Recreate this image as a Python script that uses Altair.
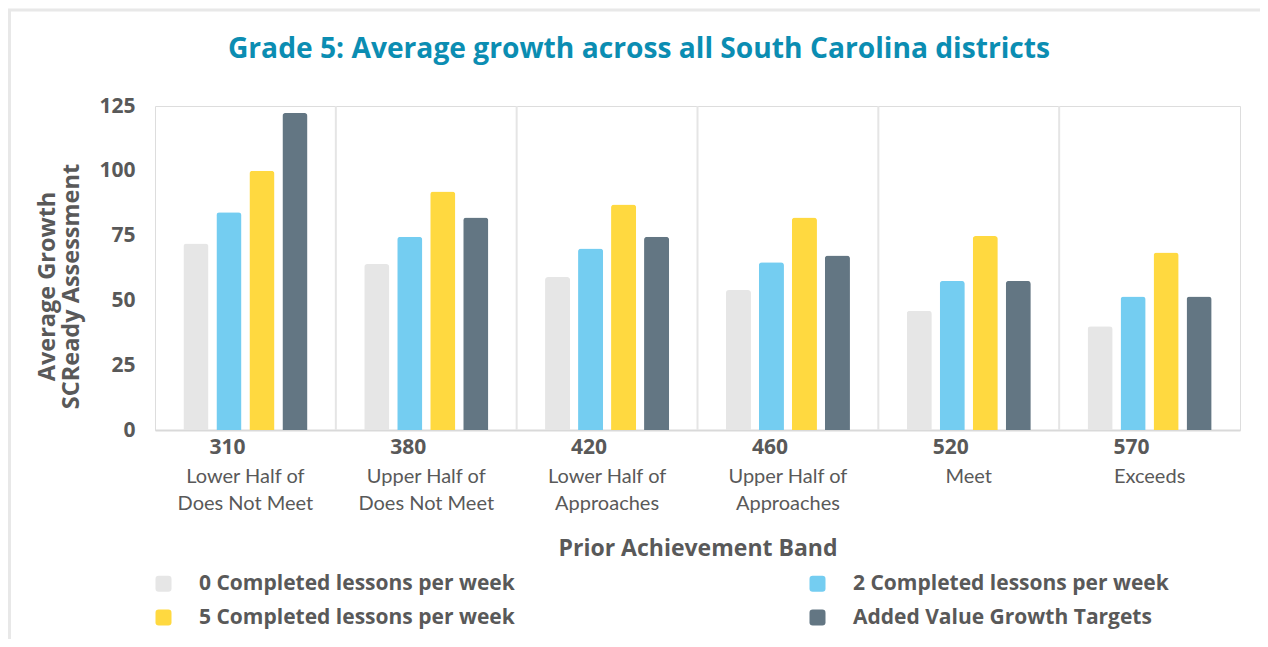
import altair as alt
import pandas as pd

title_text = "Grade 5: Average growth across all South Carolina districts"
bands = ["310", "380", "420", "460", "520", "570"]
descs = ["Lower Half of\nDoes Not Meet", "Upper Half of\nDoes Not Meet", "Lower Half of\nApproaches",
         "Upper Half of\nApproaches", "Meet", "Exceeds"]
series = ["0 Completed lessons per week", "2 Completed lessons per week",
          "5 Completed lessons per week", "Added Value Growth Targets"]
colors = ["#e6e6e6", "#74cdf1", "#ffd940", "#637683"]
s0 = [72, 64, 59, 54, 46, 40]
s2 = [84, 74.6, 70, 64.7, 57.5, 51.5]
s5 = [100, 92, 87, 82, 74.8, 68.5]
target = [122.3, 82, 74.6, 67.3, 57.5, 51.5]

rows = []
for vals, s in zip([s0, s2, s5, target], series):
    for b, v in zip(bands, vals):
        rows.append({"band": b, "series": s, "value": v})
df = pd.DataFrame(rows)
desc_df = pd.DataFrame({"band": bands, "desc": descs})
div_df = pd.DataFrame({"band": bands[1:]})
one_df = pd.DataFrame({"t": [title_text]})

# legend lays entries out column by column: order so rows read 0/2 then 5/target
legend_order = [series[0], series[2], series[1], series[3]]
legend_colors = [colors[0], colors[2], colors[1], colors[3]]

W, H = 1085, 324
BOLD = "Open Sans"
REG = "Lato"
TXT = "#595959"
GRID = "#e5e5e5"

rsym = "M-0.6,-1H0.6Q1,-1,1,-0.6V0.6Q1,1,0.6,1H-0.6Q-1,1,-1,0.6V-0.6Q-1,-1,-0.6,-1Z"

xscale = alt.Scale(domain=bands, paddingInner=0, paddingOuter=0)
yscale = alt.Scale(domain=[0, 125])

bars = alt.Chart(df).mark_bar(cornerRadiusTopLeft=3, cornerRadiusTopRight=3).encode(
    x=alt.X("band:N", scale=xscale, sort=bands,
            axis=alt.Axis(title="Prior Achievement Band", labelAngle=0, labelFont=BOLD,
                          labelFontSize=21, labelFontWeight="bold", labelColor=TXT,
                          labelBaseline="top", labelPadding=6, ticks=False, grid=False,
                          domainColor="#d9d9d9", domainWidth=2,
                          titleFont=BOLD, titleFontSize=23, titleFontWeight="bold",
                          titleColor=TXT, titleY=118, titleBaseline="middle")),
    xOffset=alt.XOffset("series:N", sort=series,
                        scale=alt.Scale(domain=series, paddingInner=0.24, paddingOuter=0.86)),
    y=alt.Y("value:Q", scale=yscale,
            axis=alt.Axis(title=["Average Growth", "SCReady Assessment"], values=[0, 25, 50, 75, 100, 125],
                          labelFont=BOLD, labelFontSize=21, labelFontWeight="bold", labelColor=TXT,
                          labelPadding=20, ticks=False, domain=False, gridColor=GRID, gridWidth=2,
                          titleFont=BOLD, titleFontSize=23.5, titleFontWeight="bold", titleColor=TXT,
                          titleX=-108, titleY=180, titleAlign="center", titleBaseline="middle",
                          titleLineHeight=24)),
    color=alt.Color("series:N", sort=legend_order,
                    scale=alt.Scale(domain=legend_order, range=legend_colors),
                    legend=alt.Legend(title=None, orient="none", legendX=-2, legendY=467,
                                      columns=2, columnPadding=292, rowPadding=12,
                                      symbolType=rsym, symbolSize=256, symbolStrokeWidth=0,
                                      labelFont=BOLD, labelFontSize=21, labelFontWeight="bold",
                                      labelColor=TXT, labelOffset=25, padding=0, labelLimit=500)),
)

dividers = alt.Chart(div_df).mark_rule(color=GRID, strokeWidth=2).encode(
    x=alt.X("band:N", scale=xscale, sort=bands, bandPosition=0),
    y=alt.datum(0, scale=yscale),
    y2=alt.datum(125),
)

descs_layer = alt.Chart(desc_df).mark_text(font=REG, fontSize=20, color=TXT, baseline="top",
                                           lineBreak="\n", lineHeight=27).encode(
    x=alt.X("band:N", scale=xscale, sort=bands),
    y=alt.value(H + 37),
    text="desc:N",
)

frame = alt.Chart(one_df).mark_rect(fillOpacity=0, stroke="#e8e8e8", strokeWidth=3).encode(
    x=alt.value(-145.5), x2=alt.value(1130), y=alt.value(-96), y2=alt.value(560),
)

title_layer = alt.Chart(one_df).mark_text(font=BOLD, fontSize=28.2, fontWeight="bold", color="#0b8db2",
                                          align="center", baseline="alphabetic").encode(
    x=alt.value(484), y=alt.value(-48), text="t:N",
)

chart = alt.layer(frame, dividers, bars, descs_layer, title_layer).properties(
    width=W, height=H,
    autosize=alt.AutoSizeParams(type="none"),
    padding={"left": 147, "top": 98, "right": 20, "bottom": 209},
).configure_view(strokeWidth=0, stroke="transparent").configure(background="white")

chart.save("out.html", embed_options={"renderer": "svg", "actions": False})
